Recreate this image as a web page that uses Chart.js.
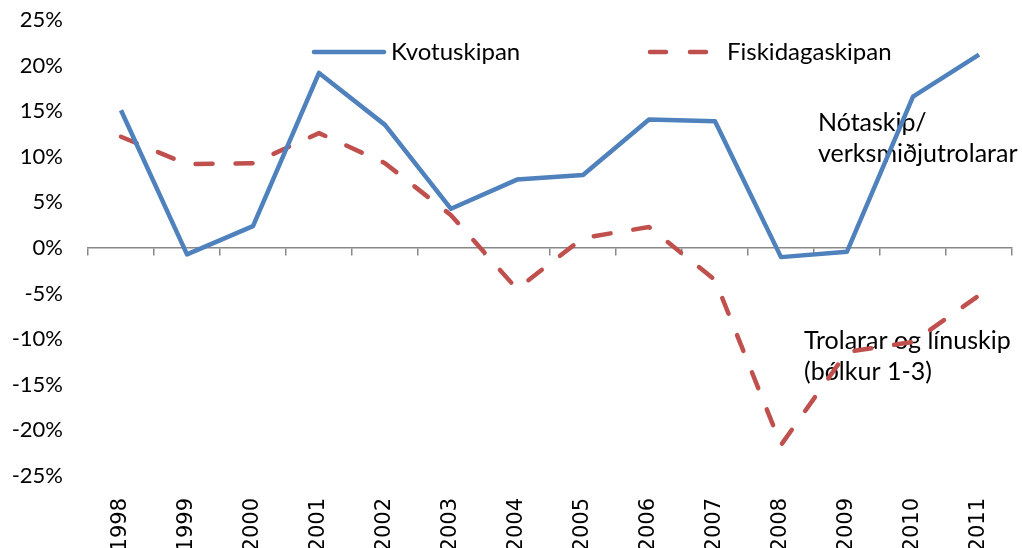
<!DOCTYPE html>
<html>
<head>
<meta charset="utf-8">
<script src="https://cdn.jsdelivr.net/npm/chart.js@4.4.0/dist/chart.umd.min.js"></script>
<style>
  body { margin: 0; background: #fff; }
</style>
</head>
<body>
<canvas id="chart" width="1022" height="548"></canvas>
<script>
// years on the x axis
var years = ['1998','1999','2000','2001','2002','2003','2004','2005','2006','2007','2008','2009','2010','2011'];
// percent values
var kvotuskipan = [15.1, -0.7, 2.4, 19.2, 13.5, 4.3, 7.5, 8.0, 14.1, 13.9, -1.0, -0.4, 16.6, 21.2];
var fiskidagaskipan = [12.2, 9.2, 9.3, 12.6, 9.3, 3.6, -4.5, 1.1, 2.3, -3.5, -21.6, -11.4, -10.3, -5.2];
var seriesNames = ['Kvotuskipan', 'Fiskidagaskipan'];
var noteTop = ['Nótaskip/', 'verksmiðjutrolarar'];
var noteBottom = ['Trolarar og línuskip', '(bólkur 1-3)'];

var blue = '#4F81BD';
var red = '#C0504D';

// the two text notes sit under the lines
var notesPlugin = {
  id: 'notes',
  beforeDatasetsDraw: function(chart) {
    var ctx = chart.ctx;
    ctx.save();
    ctx.font = '25px Lato';
    ctx.fillStyle = '#000';
    ctx.textBaseline = 'alphabetic';
    ctx.textAlign = 'left';
    ctx.fillText(noteTop[0], 818, 131);
    ctx.fillText(noteTop[1], 818, 162);
    ctx.fillText(noteBottom[0], 804, 349);
    ctx.fillText(noteBottom[1], 804, 380);
    ctx.restore();
  }
};

// legend drawn by hand inside the plot
var legendPlugin = {
  id: 'handLegend',
  afterDraw: function(chart) {
    var ctx = chart.ctx;
    var items = [
      {x: 314, color: blue, dash: [], text: seriesNames[0]},
      {x: 650, color: red, dash: [16, 24], text: seriesNames[1]}
    ];
    ctx.save();
    items.forEach(function(it) {
      ctx.strokeStyle = it.color;
      ctx.lineWidth = 4.5;
      ctx.lineCap = 'round';
      ctx.setLineDash(it.dash);
      ctx.beginPath();
      ctx.moveTo(it.x, 52);
      ctx.lineTo(it.x + 70, 52);
      ctx.stroke();
      ctx.setLineDash([]);
      ctx.font = '24px Lato';
      ctx.fillStyle = '#000';
      ctx.textBaseline = 'middle';
      ctx.fillText(it.text, it.x + 77, 52);
    });
    ctx.restore();
  }
};

var ctx = document.getElementById('chart').getContext('2d');
var chart = new Chart(ctx, {
  type: 'line',
  data: {
    labels: years,
    datasets: [
      {
        label: seriesNames[0],
        data: kvotuskipan,
        borderColor: blue,
        borderWidth: 4.5,
        borderJoinStyle: 'round',
        pointRadius: 0,
        tension: 0,
        fill: false
      },
      {
        label: seriesNames[1],
        data: fiskidagaskipan,
        borderColor: red,
        borderWidth: 4.5,
        borderDash: [17, 23],
        borderCapStyle: 'round',
        borderJoinStyle: 'round',
        pointRadius: 0,
        tension: 0,
        fill: false
      }
    ]
  },
  options: {
    responsive: false,
    devicePixelRatio: 1,
    animation: false,
    layout: { padding: { left: 0, right: 10, top: 20, bottom: 0 } },
    plugins: {
      legend: { display: false },
      tooltip: { enabled: false }
    },
    scales: {
      x: {
        type: 'category',
        position: { y: 0 },
        offset: true,
        grid: {
          display: true,
          offset: true,
          drawOnChartArea: false,
          drawTicks: true,
          tickLength: 7,
          color: '#888',
          lineWidth: 1.5
        },
        border: { display: true, color: '#888', width: 1.5 },
        ticks: { display: false }
      },
      x2: {
        type: 'category',
        position: 'bottom',
        offset: true,
        grid: { display: false },
        border: { display: false },
        ticks: {
          minRotation: 90,
          maxRotation: 90,
          autoSkip: false,
          padding: 14,
          color: '#000',
          font: { family: 'DejaVu Sans', size: 21 }
        },
        afterFit: function(scale) { scale.height = 72; }
      },
      y: {
        min: -25,
        max: 25,
        // invisible tick marks keep the labels away from the plot
        grid: {
          display: true,
          drawOnChartArea: false,
          drawTicks: true,
          tickLength: 24,
          tickColor: 'rgba(0,0,0,0)'
        },
        border: { display: false },
        ticks: {
          stepSize: 5,
          padding: 1,
          color: '#000',
          font: { family: 'Lato', size: 22 },
          callback: function(v) { return v + '%'; }
        },
        afterFit: function(scale) { scale.width = 88; }
      }
    }
  },
  plugins: [notesPlugin, legendPlugin]
});
</script>
</body>
</html>
